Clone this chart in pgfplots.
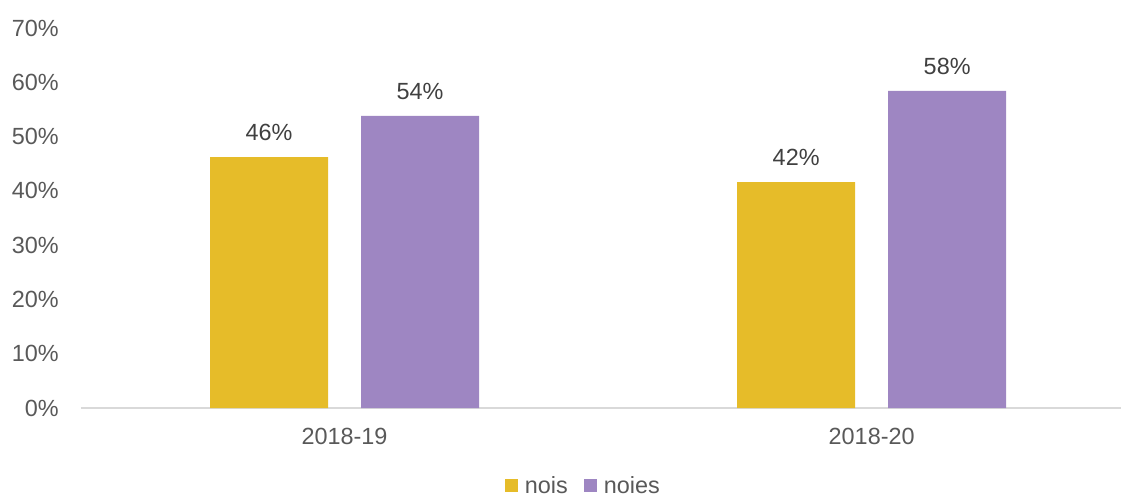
\documentclass[border=0pt]{standalone}
\usepackage{pgfplots}
\pgfplotsset{compat=1.18}
\usepackage{fontspec}
\setmainfont{Liberation Sans}
\definecolor{cgold}{HTML}{E6BC29}
\definecolor{cpurple}{HTML}{9E86C2}
\definecolor{axgray}{HTML}{D9D9D9}
\definecolor{txtgray}{HTML}{595959}
\definecolor{lblgray}{HTML}{404040}
\begin{document}
\begin{tikzpicture}
\begin{axis}[
  scale only axis,
  width=1040bp, height=380bp,
  xmin=-0.5, xmax=1.473,
  ymin=0, ymax=70,
  ybar=33bp,
  bar width=118bp,
  axis lines*=left,
  y axis line style={draw=none},
  x axis line style={draw=axgray, line width=1.5bp},
  major tick length=0pt,
  /pgf/number format/assume math mode=true,
  xtick={0,1},
  xticklabels={2018-19,2018-20},
  ytick={0,10,20,30,40,50,60,70},
  yticklabels={0\%,10\%,20\%,30\%,40\%,50\%,60\%,70\%},
  tick label style={font=\fontsize{23.5}{28}\selectfont, text=txtgray, inner sep=0pt},
  yticklabel style={xshift=-22bp},
  xticklabel style={yshift=-20bp},
  nodes near coords={\pgfmathprintnumber[fixed,precision=0]{\pgfplotspointmeta}\%},
  nodes near coords style={font=\fontsize{23.5}{28}\selectfont, text=lblgray, inner sep=0pt, anchor=south, yshift=16bp},
  legend columns=2,
  legend style={draw=none, at={(0.483,-0.205)}, anchor=center, font=\fontsize{23.5}{28}\selectfont, text=txtgray, inner sep=0pt, column sep=5bp,
    /tikz/every even column/.append style={column sep=14bp}},
  legend image code/.code={\fill[#1] (0bp,-6.5bp) rectangle (13bp,6.5bp);},
]
\addplot[fill=cgold, draw=none] coordinates {(0,46.2) (1,41.6)};
\addplot[fill=cpurple, draw=none] coordinates {(0,53.8) (1,58.4)};
\legend{nois,noies}
\end{axis}
\pgfresetboundingbox
\useasboundingbox (-81bp,-89bp) rectangle (1040bp,408bp);
\end{tikzpicture}
\end{document}
